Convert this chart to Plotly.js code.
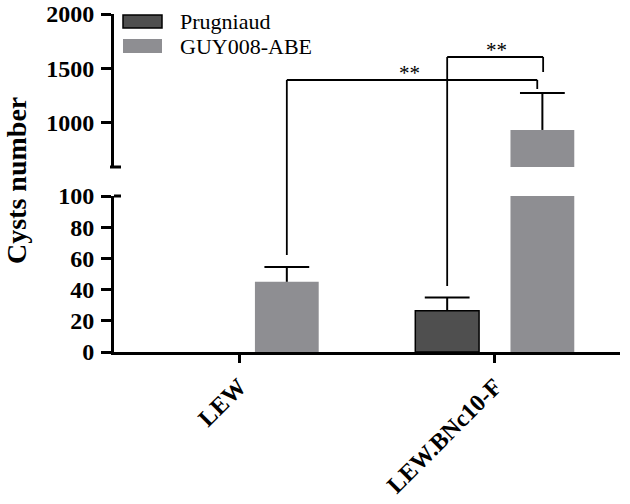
<!DOCTYPE html>
<html>
<head>
<meta charset="utf-8">
<script src="https://cdn.plot.ly/plotly-3.0.1.min.js"></script>
<style>
  html, body { margin: 0; padding: 0; background: #fff; }
  #graph { width: 630px; height: 504px; }
</style>
</head>
<body>
<div id="graph"></div>
<script>
// data
const strains = ['LEW', 'LEW.BNc10-F'];
const seriesNames = ['Prugniaud', 'GUY008-ABE'];
const prugniaud = [0, 26.5];
const prugniaudErr = [0, 8.5];
const guy = [45, 936];
const guyErr = [9.5, 340];
const colors = ['#4f4f4f', '#8e8e92'];

// broken axis: lower 0-100, upper 596-2000
const lowRange = [0, 100];
const highRange = [596, 2000];
const highTicks = [1000, 1500, 2000];

const serif = '"Liberation Serif", "Times New Roman", serif';
const xpos = [0, 1];
const bargap = 0.255;
const dx = (1 - bargap) / 4; // bar centre offset inside a group

function makeBar(vals, i, yax) {
    return {
        type: 'bar',
        x: xpos,
        y: vals,
        name: seriesNames[i],
        yaxis: yax,
        showlegend: false,
        marker: {
            color: colors[i],
            line: { color: '#000', width: vals.map(v => (i === 0 && v > 0) ? 1.5 : 0) }
        },
        hoverinfo: 'skip'
    };
}

// one-sided error bars: stem from the bar top, cap drawn as a marker
function makeErr(vals, errs, i, yax) {
    const xs = [], ys = [], e = [];
    vals.forEach(function (v, k) {
        if (errs[k] > 0) {
            xs.push(xpos[k] + (i === 0 ? -dx : dx));
            ys.push(v + errs[k]);
            e.push(errs[k]);
        }
    });
    return {
        type: 'scatter',
        mode: 'markers',
        x: xs,
        y: ys,
        yaxis: yax,
        showlegend: false,
        marker: { symbol: 'line-ew-open', size: 32, color: '#000', line: { color: '#000', width: 2 } },
        error_y: { type: 'data', symmetric: false, array: e.map(() => 0), arrayminus: e, color: '#000', thickness: 2, width: 0 },
        hoverinfo: 'skip'
    };
}

const data = [
    makeBar(prugniaud, 0, 'y'),
    makeBar(guy, 1, 'y'),
    makeBar(prugniaud, 0, 'y2'),
    makeBar(guy, 1, 'y2'),
    makeErr(prugniaud, prugniaudErr, 0, 'y'),
    makeErr(guy, guyErr, 1, 'y'),
    makeErr(prugniaud, prugniaudErr, 0, 'y2'),
    makeErr(guy, guyErr, 1, 'y2')
];

// pixel helpers for decorations (plot area 114..620 x 14..352)
const L = 114, R = 620, T = 14, B = 352;
const px = v => (v - L) / (R - L);
const py = v => (B - v) / (B - T);

function line(x0, y0, x1, y1) {
    return {
        type: 'line', xref: 'x', yref: 'paper',
        x0: x0, x1: x1, y0: y0, y1: y1,
        line: { color: '#000', width: 1.8 }
    };
}

const shapes = [
    // bracket LEW GUY -> BNc GUY
    line(0 + dx, py(255), 0 + dx, py(80)),
    line(0 + dx, py(80), 1 + dx - 0.02, py(80)),
    line(1 + dx - 0.02, py(80), 1 + dx - 0.02, py(89)),
    // bracket BNc Prugniaud -> BNc GUY
    line(1 - dx, py(286), 1 - dx, py(57)),
    line(1 - dx, py(57), 1 + dx + 0.003, py(57)),
    line(1 + dx + 0.003, py(57), 1 + dx + 0.003, py(72)),
    // break marks crossing the y axis
    { type: 'line', xref: 'paper', yref: 'paper', x0: px(110), x1: px(121), y0: py(167), y1: py(167), line: { color: '#000', width: 3 } },
    { type: 'line', xref: 'paper', yref: 'paper', x0: px(114), x1: px(121), y0: py(196), y1: py(196), line: { color: '#000', width: 3 } },
    // legend swatches
    { type: 'rect', xref: 'paper', yref: 'paper', x0: px(123), x1: px(162), y0: py(28), y1: py(15), fillcolor: colors[0], line: { color: '#000', width: 1.5 } },
    { type: 'rect', xref: 'paper', yref: 'paper', x0: px(123), x1: px(162), y0: py(53), y1: py(39), fillcolor: colors[1], line: { width: 0 } }
];

const annotations = [
    { text: '**', xref: 'x', yref: 'paper', x: 0.665, y: py(80), yanchor: 'bottom', yshift: -7, showarrow: false, font: { family: serif, size: 21, color: '#000' } },
    { text: '**', xref: 'x', yref: 'paper', x: 1.006, y: py(57), yanchor: 'bottom', yshift: -7, showarrow: false, font: { family: serif, size: 21, color: '#000' } },
    { text: '<b>Cysts number</b>', xref: 'paper', yref: 'paper', x: px(16), y: py(181), textangle: -90, showarrow: false, xanchor: 'center', yanchor: 'middle', font: { family: serif, size: 28, color: '#000' } },
    { text: seriesNames[0], xref: 'paper', yref: 'paper', x: px(178), y: py(21), xanchor: 'left', yanchor: 'middle', showarrow: false, font: { family: serif, size: 22, color: '#000' } },
    { text: seriesNames[1], xref: 'paper', yref: 'paper', x: px(178), y: py(46), xanchor: 'left', yanchor: 'middle', showarrow: false, font: { family: serif, size: 22, color: '#000' } }
];

const axisFont = { family: serif, size: 24, color: '#000', weight: 'bold' };

const yCommon = {
    ticks: 'outside',
    ticklen: 10,
    tickwidth: 3,
    tickcolor: '#000',
    showline: true,
    linecolor: '#000',
    linewidth: 3,
    showgrid: false,
    zeroline: false,
    tickfont: axisFont,
    ticklabelstandoff: 2,
    fixedrange: true
};

const layout = {
    width: 630,
    height: 504,
    margin: { l: L, r: 630 - R, t: T, b: 504 - B },
    paper_bgcolor: '#fff',
    plot_bgcolor: '#fff',
    barmode: 'group',
    bargap: bargap,
    bargroupgap: 0.33,
    showlegend: false,
    xaxis: {
        range: [-0.49, 1.49],
        tickvals: xpos,
        ticktext: strains.map(s => '<b>' + s + '</b>'),
        tickangle: -45,
        ticks: 'outside',
        ticklen: 8,
        tickwidth: 3,
        tickcolor: '#000',
        showline: true,
        linecolor: '#000',
        linewidth: 3,
        showgrid: false,
        zeroline: false,
        tickfont: axisFont,
        fixedrange: true
    },
    yaxis: Object.assign({}, yCommon, {
        domain: [0, py(196)],
        range: lowRange,
        dtick: 20
    }),
    yaxis2: Object.assign({}, yCommon, {
        domain: [py(167), 1],
        range: highRange,
        tickvals: highTicks,
        anchor: 'x'
    }),
    shapes: shapes,
    annotations: annotations
};

Plotly.newPlot('graph', data, layout, { displayModeBar: false, staticPlot: true });
</script>
</body>
</html>
